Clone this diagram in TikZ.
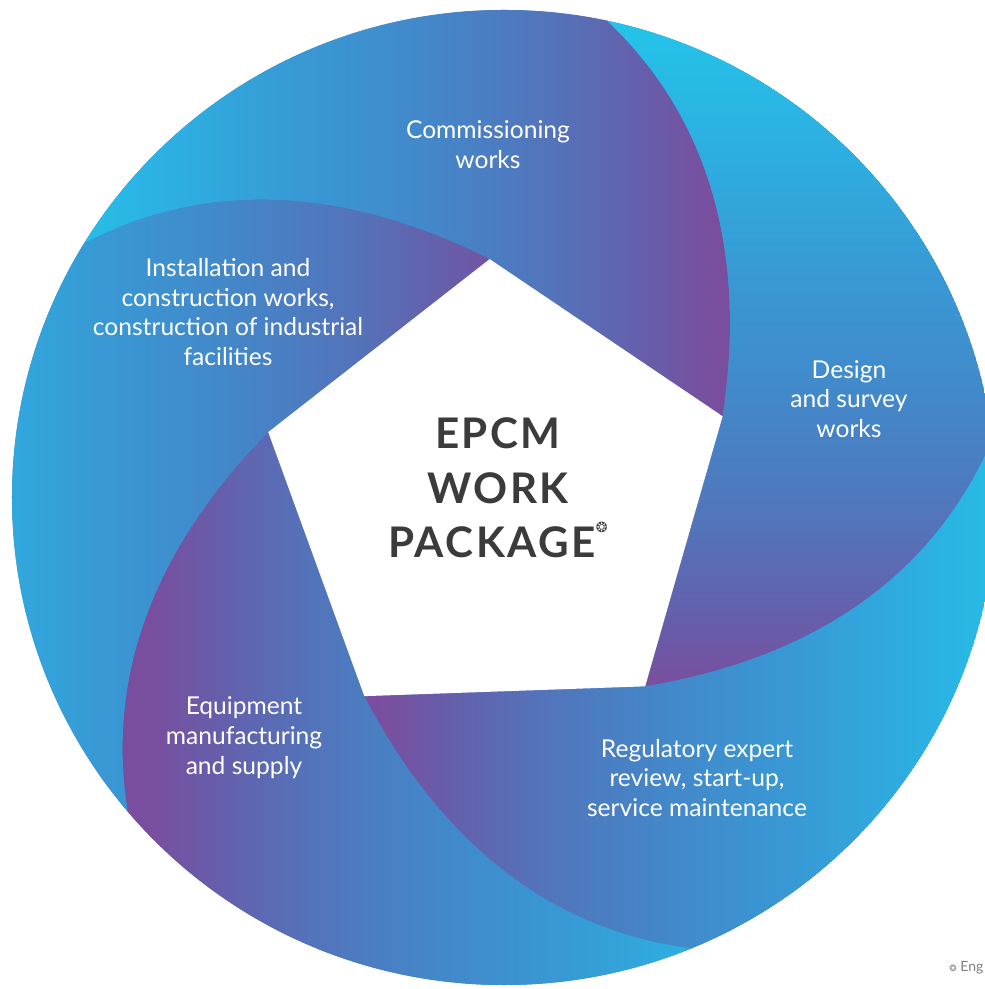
\documentclass[tikz,border=0pt]{standalone}
\usepackage{fontspec}
\setmainfont{Lato}
\newfontfamily\titlefont{Lato}[LetterSpace=6]
\newfontfamily\symfont{DejaVu Sans}
\definecolor{cyanB}{HTML}{23C4EA}
\definecolor{cTwo}{HTML}{2CB1E2}
\definecolor{cThree}{HTML}{3899D5}
\definecolor{cFour}{HTML}{4486C8}
\definecolor{cFive}{HTML}{5472B9}
\definecolor{cSix}{HTML}{675DAA}
\definecolor{purp}{HTML}{7A4E9E}
\definecolor{titlegray}{HTML}{3B3B3B}
\pgfdeclarehorizontalshading{bladeshade}{100bp}{color(0bp)=(cyanB); color(31bp)=(cyanB); color(36bp)=(cTwo); color(41.7bp)=(cThree); color(47.5bp)=(cFour); color(52.5bp)=(cFive); color(56.3bp)=(cSix); color(59bp)=(purp); color(100bp)=(purp)}
\tikzset{
  label/.style={text=white, align=center, font=\fontsize{14}{17}\selectfont, inner sep=0pt},
  titletext/.style={text=titlegray, align=center, font=\titlefont\bfseries\fontsize{24}{31}\selectfont, inner sep=0pt},
}
\begin{document}
\begin{tikzpicture}[x=0.02cm, y=0.02cm]
\useasboundingbox (-498,-491) rectangle (486,498);
\fill[white] (-498,-491) rectangle (486,498);
\begin{scope}
  \clip (6,0.5) ellipse [x radius=492, y radius=487.5];
  \fill[cFour] (6,0.5) ellipse [x radius=492, y radius=487.5];
  \foreach \k/\ang/\cx/\cy in {0/0/0/0, 1/-90/0/25, 2/180/97/0, 3/180/-133/0, 4/0/-200/0}{
    \pgfmathsetmacro\pb{20-72*\k}
    \pgfmathsetmacro\pa{\pb+72}
    \begin{scope}
      \clip (\pa:239) -- (\pb:239)
        .. controls (\pb+21.3:326) and (\pb+38:430.4) .. (\pb+57.2:490)
        -- (\pb+57.2:700) -- (\pb+93.2:800) -- (\pa+57.2:700) -- (\pa+57.2:490)
        .. controls (\pa+38:430.4) and (\pa+21.3:326) .. (\pa:239) -- cycle;
      \shade[shading=bladeshade, shading angle=\ang] (\cx,\cy) circle (600);
    \end{scope}
  }
  \fill[white] (92:239) -- (20:239) -- (-52:239) -- (-124:239) -- (164:239) -- cycle;
\end{scope}
\node[label] (comm) at (-10,353) {Commissioning\\works};
\node[label] (inst) at (-270,186) {Installation and\\construction works,\\construction of industrial\\facilities};
\node[label] (design) at (351,99) {Design\\and survey\\works};
\node[label] (equip) at (-254,-240) {Equipment\\manufacturing\\and supply};
\node[label] (reg) at (199,-280) {Regulatory expert\\review, start-up,\\service maintenance};
\node[titletext] (title) at (0,10) {EPCM\\WORK\\PACKAGE\raisebox{0.6em}{\symfont\fontsize{8}{8}\selectfont ❂}};
\node[anchor=base west, inner sep=0pt, text=gray, font=\fontsize{8}{9}\selectfont] (foot) at (451,-473) {{\symfont\fontsize{5}{6}\selectfont ❂} Eng};
\end{tikzpicture}
\end{document}
